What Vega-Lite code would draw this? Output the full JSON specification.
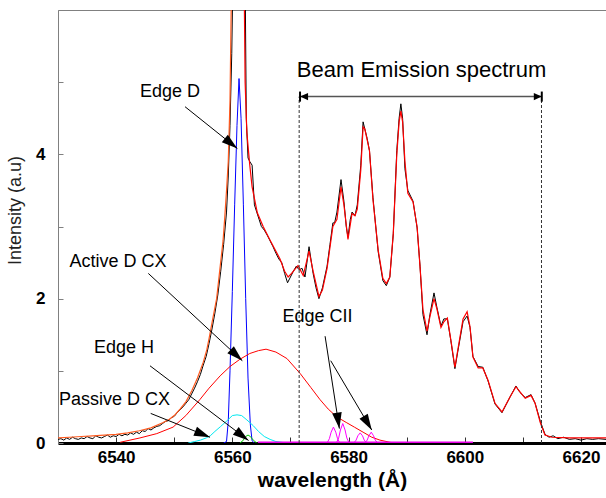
{
  "$schema": "https://vega.github.io/schema/vega-lite/v6.json",
  "width": 548,
  "height": 433,
  "autosize": {"type": "none"},
  "padding": {"left": 58, "top": 10, "right": 0, "bottom": 55},
  "background": "white",
  "config": {"view": {"stroke": "#808080", "strokeWidth": 1}, "font": "Liberation Sans"},
  "resolve": {"scale": {"color": "independent"}},
  "datasets": {
    "meas": [
      {"x": 6530, "y": 0.05}, {"x": 6530.5, "y": 0.06}, {"x": 6531, "y": 0.04}, {"x": 6531.5, "y": 0.07}, {"x": 6532, "y": 0.05},
      {"x": 6532.5, "y": 0.08}, {"x": 6533, "y": 0.06}, {"x": 6533.5, "y": 0.05}, {"x": 6534, "y": 0.07}, {"x": 6534.5, "y": 0.06},
      {"x": 6535, "y": 0.09}, {"x": 6535.5, "y": 0.07}, {"x": 6536, "y": 0.06}, {"x": 6536.5, "y": 0.1}, {"x": 6537, "y": 0.08},
      {"x": 6537.5, "y": 0.07}, {"x": 6538, "y": 0.09}, {"x": 6538.5, "y": 0.11}, {"x": 6539, "y": 0.08}, {"x": 6539.5, "y": 0.1},
      {"x": 6540, "y": 0.09}, {"x": 6540.5, "y": 0.12}, {"x": 6541, "y": 0.1}, {"x": 6541.5, "y": 0.12}, {"x": 6542, "y": 0.11},
      {"x": 6542.5, "y": 0.14}, {"x": 6543, "y": 0.12}, {"x": 6543.5, "y": 0.15}, {"x": 6544, "y": 0.13}, {"x": 6544.5, "y": 0.17},
      {"x": 6545, "y": 0.16}, {"x": 6545.5, "y": 0.2}, {"x": 6546, "y": 0.18}, {"x": 6546.5, "y": 0.21}, {"x": 6547, "y": 0.23},
      {"x": 6547.5, "y": 0.24}, {"x": 6548, "y": 0.27}, {"x": 6548.5, "y": 0.3}, {"x": 6549, "y": 0.31}, {"x": 6549.5, "y": 0.35},
      {"x": 6550, "y": 0.37}, {"x": 6550.5, "y": 0.42}, {"x": 6551, "y": 0.46}, {"x": 6551.5, "y": 0.5}, {"x": 6552, "y": 0.55},
      {"x": 6552.5, "y": 0.6}, {"x": 6553, "y": 0.68}, {"x": 6553.5, "y": 0.76}, {"x": 6554, "y": 0.85}, {"x": 6554.5, "y": 0.95},
      {"x": 6555, "y": 1.08}, {"x": 6555.5, "y": 1.2}, {"x": 6556, "y": 1.38}, {"x": 6556.5, "y": 1.58}, {"x": 6557, "y": 1.8},
      {"x": 6557.5, "y": 2.05}, {"x": 6558, "y": 2.38}, {"x": 6558.5, "y": 2.75}, {"x": 6559, "y": 3.2}, {"x": 6559.3, "y": 3.7},
      {"x": 6559.6, "y": 4.4}, {"x": 6559.9, "y": 5.4}, {"x": 6560.2, "y": 7}, {"x": 6561, "y": 14}, {"x": 6561.8, "y": 9},
      {"x": 6562.2, "y": 6.5}, {"x": 6562.4, "y": 4.5}, {"x": 6562.7, "y": 3.95}, {"x": 6563.0, "y": 3.9}, {"x": 6563.4, "y": 3.85},
      {"x": 6563.8, "y": 3.3}, {"x": 6564.2, "y": 3.2}, {"x": 6564.6, "y": 3.1}, {"x": 6565, "y": 3.0}, {"x": 6565.5, "y": 2.95},
      {"x": 6566, "y": 2.88}, {"x": 6566.5, "y": 2.8}, {"x": 6567, "y": 2.72}, {"x": 6567.5, "y": 2.63}, {"x": 6568, "y": 2.55},
      {"x": 6568.5, "y": 2.5}, {"x": 6569, "y": 2.35}, {"x": 6569.5, "y": 2.22}, {"x": 6570, "y": 2.3}, {"x": 6570.5, "y": 2.38},
      {"x": 6571, "y": 2.45}, {"x": 6571.5, "y": 2.4}, {"x": 6572, "y": 2.42}, {"x": 6572.5, "y": 2.3}, {"x": 6573.2, "y": 2.72},
      {"x": 6573.9, "y": 2.35}, {"x": 6574.4, "y": 2.15}, {"x": 6574.9, "y": 2.0}, {"x": 6575.5, "y": 2.15}, {"x": 6576.3, "y": 2.45},
      {"x": 6576.8, "y": 2.75}, {"x": 6577.3, "y": 3.05}, {"x": 6577.6, "y": 3.05}, {"x": 6578.0, "y": 3.2}, {"x": 6578.7, "y": 3.65},
      {"x": 6579.2, "y": 3.35}, {"x": 6579.6, "y": 3.0}, {"x": 6579.9, "y": 2.85}, {"x": 6580.3, "y": 3.1}, {"x": 6580.6, "y": 3.2},
      {"x": 6581.1, "y": 3.15}, {"x": 6581.5, "y": 3.3}, {"x": 6582.1, "y": 3.85}, {"x": 6582.5, "y": 4.45}, {"x": 6582.8, "y": 4.35},
      {"x": 6583.2, "y": 4.22}, {"x": 6583.6, "y": 4.05}, {"x": 6584.2, "y": 3.4}, {"x": 6585.1, "y": 2.65}, {"x": 6585.9, "y": 2.25},
      {"x": 6586.5, "y": 2.18}, {"x": 6587.1, "y": 2.3}, {"x": 6587.7, "y": 2.9}, {"x": 6588.3, "y": 4.05}, {"x": 6588.7, "y": 4.5},
      {"x": 6589.0, "y": 4.7}, {"x": 6589.3, "y": 4.5}, {"x": 6589.7, "y": 3.8}, {"x": 6590.2, "y": 3.5}, {"x": 6591.1, "y": 3.35},
      {"x": 6591.8, "y": 2.98}, {"x": 6592.3, "y": 2.45}, {"x": 6592.8, "y": 1.78}, {"x": 6593.5, "y": 1.5}, {"x": 6594.0, "y": 1.78},
      {"x": 6594.7, "y": 2.08}, {"x": 6595.2, "y": 1.88}, {"x": 6595.9, "y": 1.62}, {"x": 6596.4, "y": 1.72}, {"x": 6597.0, "y": 1.72},
      {"x": 6597.6, "y": 1.42}, {"x": 6598.3, "y": 1.03}, {"x": 6598.8, "y": 1.27}, {"x": 6599.7, "y": 1.68}, {"x": 6600.4, "y": 1.76},
      {"x": 6600.9, "y": 1.6}, {"x": 6601.4, "y": 1.2}, {"x": 6602.3, "y": 1.06}, {"x": 6603.1, "y": 1.05}, {"x": 6604.0, "y": 0.86},
      {"x": 6605.2, "y": 0.54}, {"x": 6606.4, "y": 0.42}, {"x": 6607.8, "y": 0.64}, {"x": 6608.8, "y": 0.79}, {"x": 6609.5, "y": 0.7},
      {"x": 6610.4, "y": 0.63}, {"x": 6611.4, "y": 0.67}, {"x": 6612.1, "y": 0.55}, {"x": 6613.0, "y": 0.3}, {"x": 6613.8, "y": 0.12},
      {"x": 6614.5, "y": 0.08}, {"x": 6615.2, "y": 0.1}, {"x": 6616, "y": 0.06}, {"x": 6617, "y": 0.08}, {"x": 6618, "y": 0.05},
      {"x": 6619, "y": 0.06}, {"x": 6620, "y": 0.04}, {"x": 6621, "y": 0.06}, {"x": 6622, "y": 0.05}, {"x": 6623, "y": 0.06},
      {"x": 6624.3, "y": 0.05}
    ],
    "fit": [
      {"s": "L", "x": 6530, "y": 0.07}, {"s": "L", "x": 6532, "y": 0.08}, {"s": "L", "x": 6534, "y": 0.09}, {"s": "L", "x": 6536, "y": 0.1},
      {"s": "L", "x": 6538, "y": 0.11}, {"s": "L", "x": 6540, "y": 0.12}, {"s": "L", "x": 6542, "y": 0.14}, {"s": "L", "x": 6544, "y": 0.17},
      {"s": "L", "x": 6546, "y": 0.21}, {"s": "L", "x": 6548, "y": 0.28}, {"s": "L", "x": 6549, "y": 0.32}, {"s": "L", "x": 6550, "y": 0.38},
      {"s": "L", "x": 6551, "y": 0.47}, {"s": "L", "x": 6552, "y": 0.57}, {"s": "L", "x": 6553, "y": 0.72}, {"s": "L", "x": 6554, "y": 0.9},
      {"s": "L", "x": 6555, "y": 1.12}, {"s": "L", "x": 6555.6, "y": 1.29}, {"s": "L", "x": 6556, "y": 1.45}, {"s": "L", "x": 6556.7, "y": 1.75},
      {"s": "L", "x": 6557.3, "y": 2.0}, {"s": "L", "x": 6557.9, "y": 2.44}, {"s": "L", "x": 6558.4, "y": 2.8}, {"s": "L", "x": 6558.7, "y": 3.13},
      {"s": "L", "x": 6559.0, "y": 3.5}, {"s": "L", "x": 6559.3, "y": 3.9}, {"s": "L", "x": 6559.6, "y": 4.75}, {"s": "L", "x": 6559.8, "y": 6.0},
      {"s": "L", "x": 6560.5, "y": 12}, {"s": "L", "x": 6561, "y": 14},
      {"s": "R", "x": 6561, "y": 14}, {"s": "R", "x": 6561.6, "y": 10}, {"s": "R", "x": 6562.2, "y": 5.0}, {"s": "R", "x": 6562.5, "y": 4.3},
      {"s": "R", "x": 6563.0, "y": 3.85}, {"s": "R", "x": 6563.4, "y": 3.55}, {"s": "R", "x": 6564.3, "y": 3.19}, {"s": "R", "x": 6565.3, "y": 3.0},
      {"s": "R", "x": 6566.5, "y": 2.81}, {"s": "R", "x": 6568.2, "y": 2.55}, {"s": "R", "x": 6569, "y": 2.38}, {"s": "R", "x": 6569.6, "y": 2.3},
      {"s": "R", "x": 6570.2, "y": 2.35}, {"s": "R", "x": 6571.3, "y": 2.46}, {"s": "R", "x": 6572.2, "y": 2.32}, {"s": "R", "x": 6573.2, "y": 2.66},
      {"s": "R", "x": 6573.9, "y": 2.38}, {"s": "R", "x": 6574.9, "y": 2.03}, {"s": "R", "x": 6575.5, "y": 2.12}, {"s": "R", "x": 6576.3, "y": 2.42},
      {"s": "R", "x": 6577.3, "y": 3.0}, {"s": "R", "x": 6578.0, "y": 3.1}, {"s": "R", "x": 6578.7, "y": 3.55}, {"s": "R", "x": 6579.2, "y": 3.3},
      {"s": "R", "x": 6579.9, "y": 2.82}, {"s": "R", "x": 6580.6, "y": 3.18}, {"s": "R", "x": 6581.1, "y": 3.15}, {"s": "R", "x": 6581.5, "y": 3.24},
      {"s": "R", "x": 6582.1, "y": 3.78}, {"s": "R", "x": 6582.5, "y": 4.38}, {"s": "R", "x": 6582.8, "y": 4.35}, {"s": "R", "x": 6583.2, "y": 4.2},
      {"s": "R", "x": 6583.6, "y": 4.05}, {"s": "R", "x": 6584.2, "y": 3.37}, {"s": "R", "x": 6585.1, "y": 2.67}, {"s": "R", "x": 6585.9, "y": 2.28},
      {"s": "R", "x": 6586.5, "y": 2.21}, {"s": "R", "x": 6587.1, "y": 2.3}, {"s": "R", "x": 6587.7, "y": 2.91}, {"s": "R", "x": 6588.3, "y": 4.0},
      {"s": "R", "x": 6588.7, "y": 4.45}, {"s": "R", "x": 6589.0, "y": 4.6}, {"s": "R", "x": 6589.3, "y": 4.45}, {"s": "R", "x": 6589.7, "y": 3.9},
      {"s": "R", "x": 6590.2, "y": 3.46}, {"s": "R", "x": 6591.1, "y": 3.34}, {"s": "R", "x": 6591.8, "y": 2.99}, {"s": "R", "x": 6592.3, "y": 2.44},
      {"s": "R", "x": 6592.8, "y": 1.85}, {"s": "R", "x": 6593.5, "y": 1.55}, {"s": "R", "x": 6594.0, "y": 1.75}, {"s": "R", "x": 6594.7, "y": 2.0},
      {"s": "R", "x": 6595.2, "y": 1.86}, {"s": "R", "x": 6595.9, "y": 1.6}, {"s": "R", "x": 6596.4, "y": 1.68}, {"s": "R", "x": 6597.0, "y": 1.73},
      {"s": "R", "x": 6597.6, "y": 1.43}, {"s": "R", "x": 6598.3, "y": 1.05}, {"s": "R", "x": 6598.8, "y": 1.29}, {"s": "R", "x": 6599.7, "y": 1.72},
      {"s": "R", "x": 6600.4, "y": 1.82}, {"s": "R", "x": 6600.9, "y": 1.61}, {"s": "R", "x": 6601.4, "y": 1.19}, {"s": "R", "x": 6602.3, "y": 1.04},
      {"s": "R", "x": 6603.1, "y": 1.04}, {"s": "R", "x": 6604.0, "y": 0.87}, {"s": "R", "x": 6605.2, "y": 0.55}, {"s": "R", "x": 6606.4, "y": 0.43},
      {"s": "R", "x": 6607.8, "y": 0.64}, {"s": "R", "x": 6608.8, "y": 0.78}, {"s": "R", "x": 6609.5, "y": 0.71}, {"s": "R", "x": 6610.4, "y": 0.62},
      {"s": "R", "x": 6611.4, "y": 0.66}, {"s": "R", "x": 6612.1, "y": 0.55}, {"s": "R", "x": 6613.0, "y": 0.28}, {"s": "R", "x": 6613.8, "y": 0.11},
      {"s": "R", "x": 6615, "y": 0.08}, {"s": "R", "x": 6618, "y": 0.07}, {"s": "R", "x": 6621, "y": 0.07}, {"s": "R", "x": 6624.3, "y": 0.07}
    ],
    "comp": [
      {"s": "blue", "x": 6558.5, "y": 0}, {"s": "blue", "x": 6559.0, "y": 0.02}, {"s": "blue", "x": 6559.3, "y": 0.3}, {"s": "blue", "x": 6559.6, "y": 1.0},
      {"s": "blue", "x": 6560.0, "y": 2.1}, {"s": "blue", "x": 6560.4, "y": 3.3}, {"s": "blue", "x": 6560.8, "y": 4.4}, {"s": "blue", "x": 6561.15, "y": 5.05},
      {"s": "blue", "x": 6561.5, "y": 4.5}, {"s": "blue", "x": 6561.9, "y": 3.3}, {"s": "blue", "x": 6562.3, "y": 2.0}, {"s": "blue", "x": 6562.7, "y": 0.9},
      {"s": "blue", "x": 6563.1, "y": 0.25}, {"s": "blue", "x": 6563.4, "y": 0.03}, {"s": "blue", "x": 6563.8, "y": 0},
      {"s": "cyan", "x": 6552.4, "y": 0}, {"s": "cyan", "x": 6553.5, "y": 0.02}, {"s": "cyan", "x": 6554.5, "y": 0.04}, {"s": "cyan", "x": 6555.5, "y": 0.07},
      {"s": "cyan", "x": 6556.2, "y": 0.1}, {"s": "cyan", "x": 6557, "y": 0.16}, {"s": "cyan", "x": 6558, "y": 0.23}, {"s": "cyan", "x": 6559.1, "y": 0.31},
      {"s": "cyan", "x": 6560, "y": 0.38}, {"s": "cyan", "x": 6560.8, "y": 0.39}, {"s": "cyan", "x": 6561.6, "y": 0.38}, {"s": "cyan", "x": 6562.5, "y": 0.32},
      {"s": "cyan", "x": 6563.6, "y": 0.24}, {"s": "cyan", "x": 6564.5, "y": 0.16}, {"s": "cyan", "x": 6565.5, "y": 0.09}, {"s": "cyan", "x": 6566.5, "y": 0.05},
      {"s": "cyan", "x": 6567.5, "y": 0.02}, {"s": "cyan", "x": 6569.4, "y": 0},
      {"s": "green", "x": 6561.3, "y": 0}, {"s": "green", "x": 6561.8, "y": 0.03}, {"s": "green", "x": 6562.3, "y": 0.09}, {"s": "green", "x": 6562.7, "y": 0.11},
      {"s": "green", "x": 6563.1, "y": 0.09}, {"s": "green", "x": 6563.6, "y": 0.04}, {"s": "green", "x": 6564.2, "y": 0},
      {"s": "act", "x": 6540.7, "y": 0.01}, {"s": "act", "x": 6544.1, "y": 0.07}, {"s": "act", "x": 6547, "y": 0.13}, {"s": "act", "x": 6549.8, "y": 0.22},
      {"s": "act", "x": 6552, "y": 0.38}, {"s": "act", "x": 6554.4, "y": 0.6}, {"s": "act", "x": 6556, "y": 0.76}, {"s": "act", "x": 6557.9, "y": 0.93},
      {"s": "act", "x": 6559.6, "y": 1.06}, {"s": "act", "x": 6561.3, "y": 1.16}, {"s": "act", "x": 6563, "y": 1.24}, {"s": "act", "x": 6564.5, "y": 1.28},
      {"s": "act", "x": 6565.8, "y": 1.3}, {"s": "act", "x": 6567.5, "y": 1.26}, {"s": "act", "x": 6569.4, "y": 1.17}, {"s": "act", "x": 6571.7, "y": 0.96},
      {"s": "act", "x": 6573.5, "y": 0.77}, {"s": "act", "x": 6575.1, "y": 0.6}, {"s": "act", "x": 6576.5, "y": 0.47}, {"s": "act", "x": 6578, "y": 0.36},
      {"s": "act", "x": 6579.7, "y": 0.28}, {"s": "act", "x": 6581, "y": 0.22}, {"s": "act", "x": 6582.5, "y": 0.15}, {"s": "act", "x": 6584, "y": 0.08},
      {"s": "act", "x": 6585.4, "y": 0.04}, {"s": "act", "x": 6587.7, "y": 0.0},
      {"s": "m1", "x": 6576.3, "y": 0}, {"s": "m1", "x": 6576.7, "y": 0.06}, {"s": "m1", "x": 6577.0, "y": 0.15}, {"s": "m1", "x": 6577.4, "y": 0.22},
      {"s": "m1", "x": 6577.8, "y": 0.15}, {"s": "m1", "x": 6578.1, "y": 0.06}, {"s": "m1", "x": 6578.5, "y": 0},
      {"s": "m2", "x": 6577.9, "y": 0}, {"s": "m2", "x": 6578.3, "y": 0.07}, {"s": "m2", "x": 6578.6, "y": 0.18}, {"s": "m2", "x": 6579.0, "y": 0.27},
      {"s": "m2", "x": 6579.4, "y": 0.18}, {"s": "m2", "x": 6579.7, "y": 0.07}, {"s": "m2", "x": 6580.1, "y": 0},
      {"s": "m3", "x": 6580.9, "y": 0}, {"s": "m3", "x": 6581.3, "y": 0.04}, {"s": "m3", "x": 6581.6, "y": 0.1}, {"s": "m3", "x": 6582.0, "y": 0.14},
      {"s": "m3", "x": 6582.4, "y": 0.1}, {"s": "m3", "x": 6582.7, "y": 0.04}, {"s": "m3", "x": 6583.1, "y": 0},
      {"s": "m4", "x": 6582.8, "y": 0}, {"s": "m4", "x": 6583.2, "y": 0.04}, {"s": "m4", "x": 6583.5, "y": 0.1}, {"s": "m4", "x": 6583.9, "y": 0.15},
      {"s": "m4", "x": 6584.3, "y": 0.1}, {"s": "m4", "x": 6584.6, "y": 0.04}, {"s": "m4", "x": 6585.0, "y": 0}
    ],
    "base": [{"x": 6564.4, "y": 0}, {"x": 6601.4, "y": 0}],
    "dash": [{"x": 6571.5, "y": 0, "y2": 4.8}, {"x": 6613.2, "y": 0, "y2": 4.8}],
    "bes": [{"x": 6571.65, "x2": 6613.25, "y": 4.8}],
    "besHeads": [{"x": 6571.65, "y": 4.8, "a": 270}, {"x": 6613.25, "y": 4.8, "a": 90}],
    "besBars": [{"x": 6571.65, "y": 4.87, "y2": 4.73}, {"x": 6613.25, "y": 4.87, "y2": 4.73}],
    "arrows": [
      {"x": 6551.86, "y": 4.66, "xe": 6560.86, "ye": 4.08, "a": 128.5},
      {"x": 6545.54, "y": 2.35, "xe": 6561.72, "ye": 1.14, "a": 132.9},
      {"x": 6545.83, "y": 1.07, "xe": 6562.79, "ye": 0.035, "a": 127.1},
      {"x": 6545.95, "y": 0.41, "xe": 6556.16, "ye": 0.08, "a": 112},
      {"x": 6575.96, "y": 1.48, "xe": 6578.42, "ye": 0.2, "a": 171.2},
      {"x": 6576.93, "y": 1.14, "xe": 6583.99, "ye": 0.18, "a": 149.4}
    ],
    "labels": [
      {"x": 6549.28, "y": 4.8, "t": "Edge D"},
      {"x": 6540.33, "y": 2.44, "t": "Active D CX"},
      {"x": 6541.36, "y": 1.25, "t": "Edge H"},
      {"x": 6539.72, "y": 0.52, "t": "Passive D CX"},
      {"x": 6574.66, "y": 1.68, "t": "Edge  CII"}
    ],
    "title": [{"x": 6592.56, "y": 5.07, "t": "Beam Emission spectrum"}]
  },
  "encoding": {
    "x": {
      "field": "x", "type": "quantitative",
      "scale": {"domain": [6530, 6624.3], "nice": false, "zero": false},
      "axis": {
        "title": "wavelength (Å)", "values": [6540, 6550, 6560, 6570, 6580, 6590, 6600, 6610, 6620],
        "format": "d", "labelExpr": "datum.value % 20 == 0 ? datum.label : ''",
        "grid": false, "zindex": 0, "domainColor": "#000000", "domainWidth": 3,
        "tickColor": "#333333", "tickSize": -6, "tickWidth": 1,
        "labelFont": "Liberation Sans", "labelFontWeight": "bold", "labelFontSize": 17, "labelColor": "#000000",
        "labelPadding": 12, "labelFlush": false, "labelOverlap": false,
        "titleFont": "Liberation Sans", "titleFontWeight": "bold", "titleFontSize": 21, "titleColor": "#000000", "titlePadding": 4
      }
    },
    "y": {
      "field": "y", "type": "quantitative",
      "scale": {"domain": [0, 6], "nice": false},
      "axis": {
        "title": "Intensity (a.u)", "values": [0, 1, 2, 3, 4, 5],
        "labelExpr": "datum.value % 2 == 0 ? datum.label : ''",
        "grid": false, "zindex": 0, "domainColor": "#808080", "domainWidth": 1,
        "tickColor": "#808080", "tickSize": -5, "tickWidth": 1,
        "labelFont": "Liberation Sans", "labelFontWeight": "bold", "labelFontSize": 17, "labelColor": "#000000",
        "labelPadding": 18, "labelFlush": false, "labelOverlap": false,
        "titleFont": "Liberation Sans", "titleFontWeight": "normal", "titleFontSize": 18, "titleColor": "#222222",
        "titleAngle": -90, "titleX": -43, "titleY": 200, "titleAlign": "center", "titleBaseline": "middle"
      }
    }
  },
  "layer": [
    {"data": {"name": "meas"}, "mark": {"type": "line", "color": "#000000", "strokeWidth": 1, "clip": true}},
    {"data": {"name": "comp"}, "mark": {"type": "line", "strokeWidth": 1, "clip": true},
      "encoding": {"color": {"field": "s", "type": "nominal", "legend": null,
        "scale": {"domain": ["blue", "cyan", "green", "act", "m1", "m2", "m3", "m4"],
                  "range": ["#0000ff", "#00e8f0", "#00c800", "#ff0000", "#ff00ff", "#ff00ff", "#ff00ff", "#ff00ff"]}}}},
    {"data": {"name": "base"}, "mark": {"type": "line", "color": "#e600e6", "strokeWidth": 3, "clip": true}},
    {"data": {"name": "fit"}, "mark": {"type": "line", "strokeWidth": 1.2, "clip": true},
      "encoding": {"color": {"field": "s", "type": "nominal", "legend": null,
        "scale": {"domain": ["L", "R"], "range": ["#ff5a1f", "#ff0000"]}}}},
    {"data": {"name": "dash"}, "mark": {"type": "rule", "color": "#333333", "strokeWidth": 1, "strokeDash": [3, 2]},
      "encoding": {"y2": {"field": "y2"}}},
    {"data": {"name": "bes"}, "mark": {"type": "rule", "color": "#555555", "strokeWidth": 1.5},
      "encoding": {"x2": {"field": "x2"}}},
    {"data": {"name": "besBars"}, "mark": {"type": "rule", "color": "#000000", "strokeWidth": 2},
      "encoding": {"y2": {"field": "y2"}}},
    {"data": {"name": "besHeads"}, "mark": {"type": "point", "shape": "M0,0L0.9,2L-0.9,2Z", "filled": true, "color": "#000000", "opacity": 1, "size": 64, "strokeWidth": 0},
      "encoding": {"angle": {"field": "a", "type": "quantitative", "scale": null}}},
    {"data": {"name": "arrows"}, "mark": {"type": "rule", "color": "#000000", "strokeWidth": 1},
      "encoding": {"x2": {"field": "xe"}, "y2": {"field": "ye"}}},
    {"data": {"name": "arrows"}, "mark": {"type": "point", "shape": "M0,0L0.6,2L-0.6,2Z", "filled": true, "color": "#000000", "opacity": 1, "size": 256, "strokeWidth": 0},
      "encoding": {"x": {"field": "xe", "type": "quantitative"}, "y": {"field": "ye", "type": "quantitative"},
        "angle": {"field": "a", "type": "quantitative", "scale": null}}},
    {"data": {"name": "labels"}, "mark": {"type": "text", "font": "Liberation Sans", "fontSize": 18, "color": "#000000", "align": "center", "baseline": "alphabetic"},
      "encoding": {"text": {"field": "t"}}},
    {"data": {"name": "title"}, "mark": {"type": "text", "font": "Liberation Sans", "fontSize": 22, "color": "#000000", "align": "center", "baseline": "alphabetic"},
      "encoding": {"text": {"field": "t"}}}
  ]
}
